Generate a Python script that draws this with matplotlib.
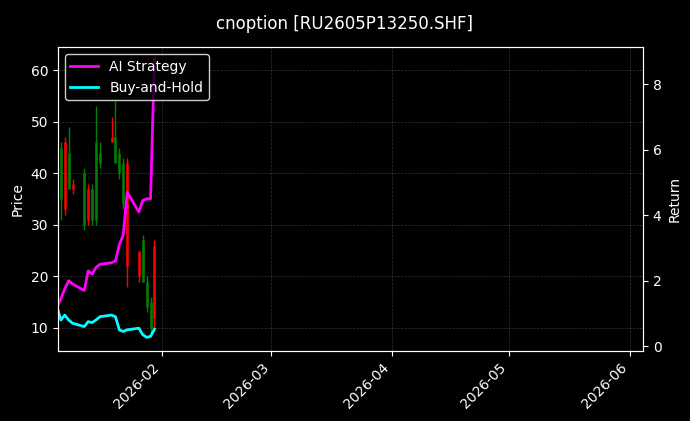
import numpy as np
import pandas as pd
import matplotlib
matplotlib.use("Agg")
import matplotlib.pyplot as plt
import matplotlib.dates as mdates

dates = pd.to_datetime([
    "2026-01-05", "2026-01-06", "2026-01-07", "2026-01-08", "2026-01-09",
    "2026-01-12", "2026-01-13", "2026-01-14", "2026-01-15", "2026-01-16",
    "2026-01-19", "2026-01-20", "2026-01-21", "2026-01-22", "2026-01-23",
    "2026-01-26", "2026-01-27", "2026-01-28", "2026-01-29", "2026-01-30"])
opens = [45, 35, 46, 37, 38, 30, 37, 31, 31, 42, 47, 42, 40, 34, 42, 25, 19, 14, 10, 26]
highs = [62, 46, 47, 49, 39, 41, 38, 38, 53, 46, 51, 54, 45, 43, 43, 25, 28, 20, 16, 27]
lows = [44, 31, 32, 37, 36, 29, 30, 30, 30, 41, 46, 42, 39, 33, 18, 19, 19, 13, 9, 10]
closes = [55, 45, 33, 44, 37, 40, 31, 37, 46, 44, 46, 47, 44, 42, 22, 20, 27, 19, 15, 12]
ai_ret = [1.2, 1.45, 1.75, 2.0, 1.9, 1.7, 2.3, 2.2, 2.4, 2.5, 2.55, 2.6, 3.1, 3.4, 4.7, 4.1, 4.45, 4.5, 4.5, 8.8]
bh_ret = [1.2, 0.8, 0.95, 0.8, 0.7, 0.6, 0.75, 0.72, 0.8, 0.9, 0.95, 0.9, 0.5, 0.45, 0.5, 0.55, 0.35, 0.27, 0.3, 0.52]

plt.style.use("dark_background")
fig = plt.figure(figsize=(6.9, 4.21), dpi=100)
ax = fig.add_axes([0.084, 0.166, 0.848, 0.722])

for d, o, h, l, c in zip(dates, opens, highs, lows, closes):
    col = "green" if c >= o else "red"
    ax.vlines(d, l, h, color=col, linewidth=1)
    ax.vlines(d, min(o, c), max(o, c), color=col, linewidth=1.8)

ax.set_ylabel("Price")
ax.set_ylim(5.5, 64.5)
ax.set_xlim(pd.Timestamp("2026-01-05 06:00"), pd.Timestamp("2026-06-04 08:00"))
ax.grid(True, linestyle="--", linewidth=0.5, color="gray", alpha=0.4)
ax.xaxis.set_major_locator(mdates.MonthLocator())
ax.xaxis.set_major_formatter(mdates.DateFormatter("%Y-%m"))
plt.setp(ax.get_xticklabels(), rotation=45, ha="right")

ax2 = ax.twinx()
ax2.plot(dates, ai_ret, color="magenta", linewidth=2, label="AI Strategy")
ax2.plot(dates, bh_ret, color="cyan", linewidth=2, label="Buy-and-Hold")
ax2.set_ylim(-0.15, 9.13)
ax2.set_ylabel("Return")
leg = ax2.legend(loc="upper left")
leg.get_frame().set_edgecolor("white")

fig.suptitle("cnoption [RU2605P13250.SHF]", y=0.965)
fig.savefig("out.png", dpi=100)
